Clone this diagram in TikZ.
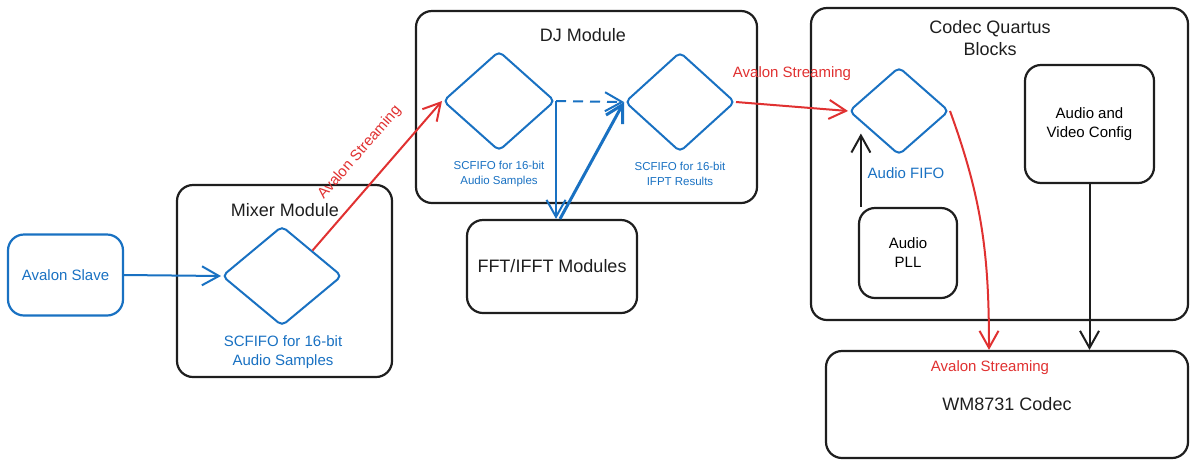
\documentclass[tikz,border=0pt]{standalone}
\usepackage{fontspec}
\setmainfont{Liberation Sans}
\usepackage{xcolor}
\usepackage{tikz}
\usetikzlibrary{shapes, arrows.meta, positioning}
\definecolor{fifoblue}{HTML}{1971C2}
\definecolor{streamred}{HTML}{E03131}
\definecolor{inkblack}{HTML}{1E1E1E}

\begin{document}
\begin{tikzpicture}[x=1pt, y=-1pt,
		block/.style={draw=inkblack, line width=2.2pt, rounded corners=16pt, inner sep=0pt, align=center},
		fifo/.style={diamond, draw=fifoblue, line width=2pt, rounded corners=5pt, inner sep=0pt},
		titletext/.style={font=\fontsize{18}{22}\selectfont, text=inkblack, align=center},
		midtext/.style={font=\fontsize{15}{19}\selectfont, align=center},
		smalltext/.style={font=\fontsize{11.5}{15}\selectfont, text=fifoblue, align=center},
		barbarrow/.style={-{Straight Barb[length=17pt, width=19pt]}, line width=2pt},
		]
		\useasboundingbox (0,0) rectangle (1190,459);
		
		\node [block, draw=fifoblue, minimum width=115pt, minimum height=81pt, midtext, text=fifoblue] (slave) at (65.5,275) {Avalon Slave};
		\node [block, minimum width=215pt, minimum height=192pt] (mixer) at (284.5,281) {};
		\node [titletext] (mixertitle) at (285,210) {Mixer Module};
		\node [fifo, minimum width=120pt, minimum height=100pt] (mixfifo) at (282,276) {};
		\node [midtext, text=fifoblue] (mixlabel) at (283,352) {SCFIFO for 16-bit\\Audio Samples};
		
		\node [block, minimum width=341pt, minimum height=192pt] (dj) at (586.5,107) {};
		\node [titletext] (djtitle) at (583,35) {DJ Module};
		\node [fifo, minimum width=112pt, minimum height=100pt] (djin) at (499,101) {};
		\node [smalltext] (djinlabel) at (499,174) {SCFIFO for 16-bit\\Audio Samples};
		\node [fifo, minimum width=110pt, minimum height=100pt] (djout) at (680,102) {};
		\node [smalltext] (djoutlabel) at (680,174) {SCFIFO for 16-bit\\IFPT Results};
		\node [block, minimum width=170pt, minimum height=93pt, titletext] (fft) at (552,266.5) {FFT/IFFT Modules};
		
		\node [block, minimum width=377pt, minimum height=312pt] (quartus) at (999.5,164) {};
		\node [titletext] (quartustitle) at (990,38.5) {Codec Quartus\\Blocks};
		\node [fifo, minimum width=100pt, minimum height=88pt] (audiofifo) at (899,111) {};
		\node [midtext, text=fifoblue] (audiofifolabel) at (906,173) {Audio FIFO};
		\node [block, minimum width=98pt, minimum height=90pt, midtext] (pll) at (908,253) {Audio\\PLL};
		\node [block, minimum width=129pt, minimum height=118pt, midtext] (config) at (1089.5,124) {Audio and\\Video Config};
		
		\node [block, minimum width=362pt, minimum height=107pt, titletext] (codec) at (1007,404.5) {WM8731 Codec};
		\node [midtext, text=streamred] (codeclabel) at (990,368) {Avalon Streaming};
		
		\draw [barbarrow, fifoblue] (slave.east) -- (mixfifo.west);
		\draw [barbarrow, streamred] (mixfifo.north east) -- (djin.west)
		node [pos=0.53, sloped, above=17pt, midtext, text=streamred] {Avalon Streaming};
		\draw [barbarrow, fifoblue, dash pattern=on 10pt off 7pt] (djin.east) -- (djout.west);
		\draw [barbarrow, fifoblue] (djin.east) -- (djin.east |- fft.north);
		\draw [barbarrow, fifoblue, line width=3pt] ([xshift=8pt]fft.north) -- (djout.west);
		\draw [barbarrow, streamred] (djout.east) -- (audiofifo.west)
		node [midway, above=22pt, midtext, text=streamred] {Avalon Streaming};
		\draw [barbarrow, inkblack] ([xshift=3pt]pll.north west) -- ([xshift=3pt]pll.north west |- audiofifo.south west);
		\draw [barbarrow, inkblack] (config.south) -- (config.south |- codec.north);
		\draw [barbarrow, streamred] (audiofifo.east) to [out=-70, in=90] ([xshift=-18pt]codec.north);
	\end{tikzpicture}
\end{document}
